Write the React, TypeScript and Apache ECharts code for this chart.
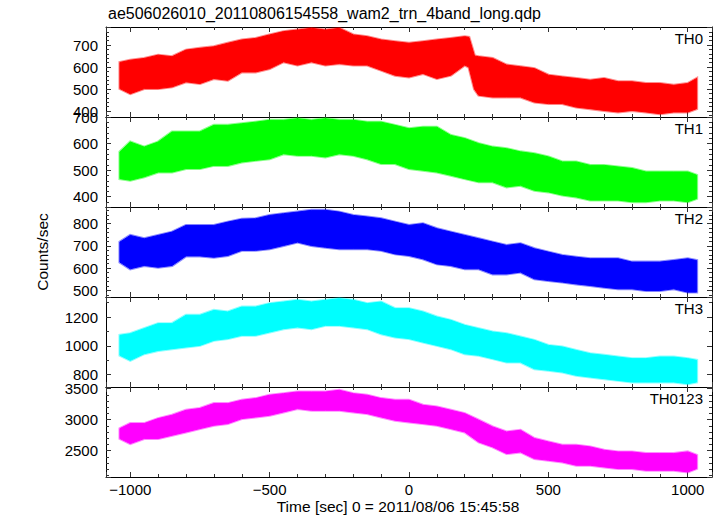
import React, { useEffect, useRef } from 'react';
import * as echarts from 'echarts';

// Time samples (sec) where the band envelope was read
const TIME = [-1037, -1000, -950, -900, -850, -800, -750, -700, -650, -600, -550, -500, -450, -400,
  -350, -300, -250, -200, -150, -100, -50, 0, 50, 100, 150, 200, 250, 300, 350,
  400, 450, 500, 550, 600, 650, 700, 750, 800, 850, 900, 950, 1000, 1032];
const TIME_TH0 = [-1037, -1000, -950, -900, -850, -800, -750, -700, -650, -600, -550, -500, -450, -400,
  -350, -300, -250, -200, -150, -100, -50, 0, 50, 100, 150, 200, 215, 235, 250, 300, 350,
  400, 450, 500, 550, 600, 650, 700, 750, 800, 850, 900, 950, 1000, 1032];

const TH0_HI = [621, 631, 639, 654, 647, 677, 685, 692, 708, 723, 730, 746, 761, 768,
  776, 768, 776, 746, 738, 723, 715, 708, 715, 723, 730, 738, 735, 650, 647, 639, 609,
  601, 593, 563, 555, 548, 540, 548, 533, 533, 525, 525, 517, 525, 548];
const TH0_LO = [502, 479, 502, 502, 510, 533, 525, 548, 540, 578, 578, 593, 624, 609,
  624, 609, 616, 609, 609, 586, 563, 555, 571, 548, 563, 609, 600, 500, 472, 464, 464,
  464, 441, 434, 434, 418, 411, 403, 396, 403, 396, 388, 396, 396, 411];

const TH1_HI = [569, 606, 587, 606, 644, 644, 644, 669, 669, 675, 681, 688, 688, 694,
  688, 694, 688, 688, 681, 681, 669, 656, 662, 662, 631, 619, 600, 587, 581,
  569, 562, 550, 531, 531, 518, 518, 512, 506, 493, 493, 493, 493, 481];
const TH1_LO = [468, 462, 475, 493, 493, 506, 506, 518, 518, 531, 537, 543, 562, 556,
  556, 550, 562, 556, 543, 525, 525, 506, 500, 493, 481, 468, 456, 456, 437,
  443, 424, 418, 406, 399, 387, 387, 387, 381, 381, 387, 387, 381, 393];

const TH2_HI = [717, 747, 732, 747, 762, 792, 792, 792, 807, 820, 822, 837, 845, 852,
  860, 860, 852, 837, 830, 822, 807, 792, 800, 777, 762, 747, 732, 717, 702,
  710, 687, 672, 657, 649, 642, 642, 642, 627, 627, 627, 634, 642, 634];
const TH2_LO = [627, 597, 612, 604, 612, 655, 655, 649, 657, 680, 680, 687, 702, 717,
  702, 694, 687, 687, 687, 680, 664, 657, 642, 619, 612, 597, 597, 574, 574,
  582, 552, 544, 537, 529, 522, 514, 507, 507, 499, 499, 507, 492, 492];

const TH3_HI = [1073, 1084, 1119, 1154, 1154, 1212, 1212, 1246, 1235, 1269, 1269, 1293, 1304, 1316,
  1304, 1316, 1327, 1316, 1293, 1304, 1258, 1258, 1235, 1200, 1177, 1142, 1119, 1096, 1084,
  1061, 1038, 1003, 992, 968, 945, 934, 922, 911, 911, 922, 922, 911, 899];
const TH3_LO = [934, 899, 945, 968, 980, 992, 1003, 1038, 1050, 1073, 1073, 1096, 1119, 1131,
  1119, 1142, 1142, 1131, 1119, 1084, 1061, 1050, 1026, 1003, 980, 945, 934, 911, 887,
  887, 841, 830, 818, 795, 783, 772, 760, 749, 749, 749, 749, 737, 749];

const TH0123_HI = [2855, 2936, 2936, 3016, 3070, 3150, 3180, 3258, 3258, 3312, 3339, 3393, 3419, 3446,
  3446, 3446, 3473, 3419, 3393, 3339, 3312, 3312, 3231, 3204, 3151, 3097, 2990, 2882, 2801,
  2828, 2694, 2640, 2586, 2586, 2560, 2506, 2479, 2479, 2452, 2452, 2452, 2479, 2425];
const TH0123_LO = [2694, 2613, 2694, 2694, 2748, 2801, 2855, 2909, 2936, 3016, 3043, 3070, 3124, 3178,
  3151, 3151, 3151, 3124, 3097, 3043, 2990, 2963, 2936, 2909, 2855, 2801, 2640, 2560, 2452,
  2479, 2371, 2344, 2317, 2264, 2264, 2237, 2210, 2210, 2183, 2183, 2183, 2156, 2210];

const PANEL_NAMES = ['TH0', 'TH1', 'TH2', 'TH3', 'TH0123'];
const PANEL_COLORS = ['#ff0000', '#00ff00', '#0000ff', '#00ffff', '#ff00ff'];
const Y_MIN = [373, 361, 470, 714, 2074];
const Y_MAX = [782, 700.5, 875, 1339, 3526];
const Y_STEP = [100, 100, 100, 200, 500];
const Y_MINOR = [5, 5, 5, 2, 5];
const X_MIN = -1087;
const X_MAX = 1087;
const X_STEP = 500;

const TITLE = 'ae506026010_20110806154558_wam2_trn_4band_long.qdp';
const X_NAME = 'Time [sec] 0 = 2011/08/06 15:45:58';
const Y_NAME = 'Counts/sec';

const FONT = "'Liberation Sans', Arial, Helvetica, sans-serif";

export default function App() {
  const ref = useRef<HTMLDivElement>(null);
  useEffect(() => {
    if (!ref.current) return;
    const chart = echarts.init(ref.current, null, { renderer: 'svg' });
    const panels = [
      { t: TIME_TH0, hi: TH0_HI, lo: TH0_LO },
      { t: TIME, hi: TH1_HI, lo: TH1_LO },
      { t: TIME, hi: TH2_HI, lo: TH2_LO },
      { t: TIME, hi: TH3_HI, lo: TH3_LO },
      { t: TIME, hi: TH0123_HI, lo: TH0123_LO },
    ];
    const left = 106;
    const right = 5;
    const top0 = 27;
    const h = 90;
    const grids: any[] = [];
    const xAxes: any[] = [];
    const yAxes: any[] = [];
    const series: any[] = [];
    const graphics: any[] = [];
    const minus = (v: number) => (v < 0 ? '\u2212' + Math.abs(v) : String(v));
    panels.forEach((p, i) => {
      grids.push({ left, right, top: top0 + h * i, height: h, containLabel: false });
      const xBase = {
        type: 'value', gridIndex: i, min: X_MIN, max: X_MAX,
        splitNumber: 4, minInterval: X_STEP, maxInterval: X_STEP,
        axisLine: { show: true, onZero: false, lineStyle: { color: '#000', width: 1 } },
        axisTick: { show: true, inside: true, length: 5, lineStyle: { color: '#333' } },
        minorTick: { show: true, splitNumber: 5, length: 3, lineStyle: { color: '#333' } },
        splitLine: { show: false },
      };
      xAxes.push({
        ...xBase, position: 'bottom',
        axisLabel: {
          show: i === panels.length - 1, color: '#000', fontSize: 15, fontFamily: FONT, margin: 5,
          showMinLabel: false, showMaxLabel: false,
          formatter: (v: number) => (v % X_STEP === 0 ? minus(v) : ''),
        },
      });
      xAxes.push({ ...xBase, position: 'top', axisLabel: { show: false } });
      const yBase = {
        type: 'value', gridIndex: i, min: Y_MIN[i], max: Y_MAX[i],
        splitNumber: 3, minInterval: Y_STEP[i], maxInterval: Y_STEP[i],
        axisLine: { show: true, onZero: false, lineStyle: { color: '#000', width: 1 } },
        axisTick: { show: true, inside: true, length: 5, lineStyle: { color: '#333' } },
        minorTick: { show: true, splitNumber: Y_MINOR[i], length: 3, lineStyle: { color: '#333' } },
        splitLine: { show: false },
      };
      const step = Y_STEP[i];
      yAxes.push({
        ...yBase, position: 'left',
        axisLabel: {
          show: true, color: '#000', fontSize: 15, fontFamily: FONT, margin: 8,
          showMinLabel: false, showMaxLabel: false,
          formatter: (v: number) => (v % step === 0 ? String(v) : ''),
        },
      });
      yAxes.push({ ...yBase, position: 'right', axisLabel: { show: false } });
      const color = PANEL_COLORS[i];
      series.push({
        type: 'custom',
        xAxisIndex: 2 * i,
        yAxisIndex: 2 * i,
        clip: true,
        data: p.t.map((t, k) => [t, p.lo[k], p.hi[k]]),
        encode: { x: 0, y: [1, 2] },
        renderItem: (params: any, api: any) => {
          if (params.dataIndex !== 0) return null;
          const pts: number[][] = [];
          for (let k = 0; k < p.t.length; k++) pts.push(api.coord([p.t[k], p.hi[k]]));
          for (let k = p.t.length - 1; k >= 0; k--) pts.push(api.coord([p.t[k], p.lo[k]]));
          return {
            type: 'group',
            children: [
              {
                type: 'polygon',
                shape: { points: pts },
                style: { fill: 'none', stroke: color, lineWidth: 3, opacity: 0.45 },
              },
              {
                type: 'polygon',
                shape: { points: pts },
                style: { fill: color, stroke: color, lineWidth: 1, opacity: 1 },
              },
            ],
          };
        },
      });
      graphics.push({
        type: 'text', right: 14, top: top0 + h * i + 4,
        style: { text: PANEL_NAMES[i], fill: '#000', font: `15px ${FONT}`, textAlign: 'right' },
      });
    });
    graphics.push({
      type: 'text', left: 108, top: 5,
      style: { text: TITLE, fill: '#000', font: `16px ${FONT}` },
    });
    graphics.push({
      type: 'text', x: 398, y: 506,
      style: { text: X_NAME, fill: '#000', font: `15.5px ${FONT}`, textAlign: 'center', textVerticalAlign: 'middle' },
    });
    graphics.push({
      type: 'text', x: 42, y: 252, rotation: Math.PI / 2,
      style: { text: Y_NAME, fill: '#000', font: `15.5px ${FONT}`, textAlign: 'center', textVerticalAlign: 'middle' },
    });
    chart.setOption({
      animation: false,
      backgroundColor: '#fff',
      grid: grids,
      xAxis: xAxes,
      yAxis: yAxes,
      series,
      graphic: graphics,
    });
    return () => chart.dispose();
  }, []);
  return <div ref={ref} style={{ position: 'fixed', left: 0, top: 0, width: 717, height: 516 }} />;
}
